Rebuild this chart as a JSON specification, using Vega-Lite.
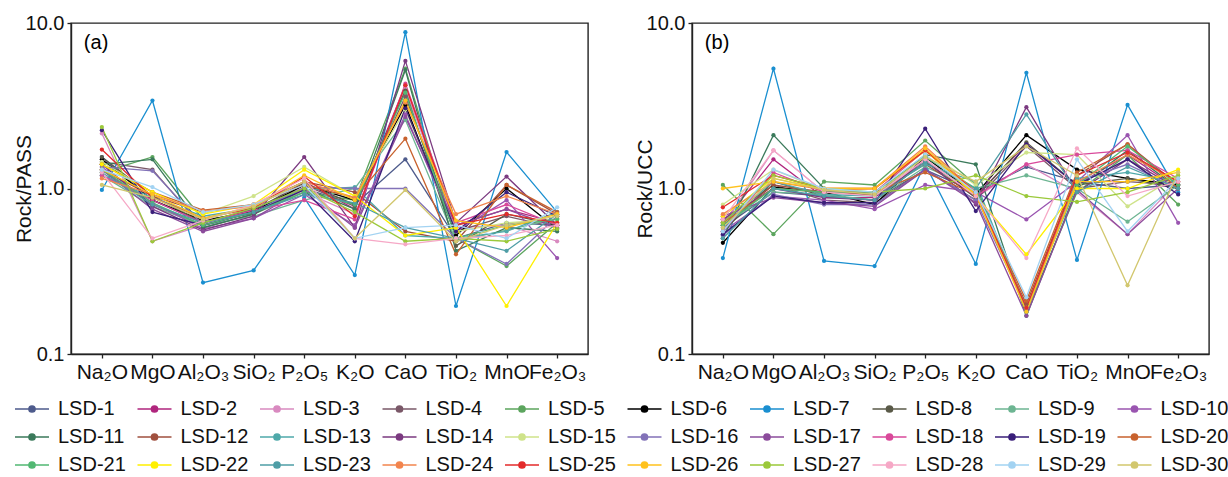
{
  "$schema": "https://vega.github.io/schema/vega-lite/v6.json",
  "padding": {"left": 12, "top": 12, "right": 4, "bottom": 2},
  "datasets": {
    "pass": [
      {"sample":"LSD-1","oxide":"Na₂O","ratio":1.55},{"sample":"LSD-1","oxide":"MgO","ratio":0.85},{"sample":"LSD-1","oxide":"Al₂O₃","ratio":0.62},{"sample":"LSD-1","oxide":"SiO₂","ratio":0.75},{"sample":"LSD-1","oxide":"P₂O₅","ratio":1.0},{"sample":"LSD-1","oxide":"K₂O","ratio":0.8},{"sample":"LSD-1","oxide":"CaO","ratio":1.5},{"sample":"LSD-1","oxide":"TiO₂","ratio":0.5},{"sample":"LSD-1","oxide":"MnO","ratio":0.62},{"sample":"LSD-1","oxide":"Fe₂O₃","ratio":0.6},
      {"sample":"LSD-2","oxide":"Na₂O","ratio":1.3},{"sample":"LSD-2","oxide":"MgO","ratio":0.8},{"sample":"LSD-2","oxide":"Al₂O₃","ratio":0.6},{"sample":"LSD-2","oxide":"SiO₂","ratio":0.72},{"sample":"LSD-2","oxide":"P₂O₅","ratio":1.1},{"sample":"LSD-2","oxide":"K₂O","ratio":0.75},{"sample":"LSD-2","oxide":"CaO","ratio":4.2},{"sample":"LSD-2","oxide":"TiO₂","ratio":0.6},{"sample":"LSD-2","oxide":"MnO","ratio":0.75},{"sample":"LSD-2","oxide":"Fe₂O₃","ratio":0.62},
      {"sample":"LSD-3","oxide":"Na₂O","ratio":2.15},{"sample":"LSD-3","oxide":"MgO","ratio":0.48},{"sample":"LSD-3","oxide":"Al₂O₃","ratio":0.6},{"sample":"LSD-3","oxide":"SiO₂","ratio":0.78},{"sample":"LSD-3","oxide":"P₂O₅","ratio":0.95},{"sample":"LSD-3","oxide":"K₂O","ratio":0.7},{"sample":"LSD-3","oxide":"CaO","ratio":4.0},{"sample":"LSD-3","oxide":"TiO₂","ratio":0.58},{"sample":"LSD-3","oxide":"MnO","ratio":0.6},{"sample":"LSD-3","oxide":"Fe₂O₃","ratio":0.48},
      {"sample":"LSD-4","oxide":"Na₂O","ratio":1.45},{"sample":"LSD-4","oxide":"MgO","ratio":1.3},{"sample":"LSD-4","oxide":"Al₂O₃","ratio":0.58},{"sample":"LSD-4","oxide":"SiO₂","ratio":0.7},{"sample":"LSD-4","oxide":"P₂O₅","ratio":1.05},{"sample":"LSD-4","oxide":"K₂O","ratio":0.78},{"sample":"LSD-4","oxide":"CaO","ratio":3.6},{"sample":"LSD-4","oxide":"TiO₂","ratio":0.55},{"sample":"LSD-4","oxide":"MnO","ratio":0.68},{"sample":"LSD-4","oxide":"Fe₂O₃","ratio":0.58},
      {"sample":"LSD-5","oxide":"Na₂O","ratio":1.25},{"sample":"LSD-5","oxide":"MgO","ratio":1.55},{"sample":"LSD-5","oxide":"Al₂O₃","ratio":0.65},{"sample":"LSD-5","oxide":"SiO₂","ratio":0.7},{"sample":"LSD-5","oxide":"P₂O₅","ratio":0.95},{"sample":"LSD-5","oxide":"K₂O","ratio":0.85},{"sample":"LSD-5","oxide":"CaO","ratio":5.3},{"sample":"LSD-5","oxide":"TiO₂","ratio":0.5},{"sample":"LSD-5","oxide":"MnO","ratio":0.34},{"sample":"LSD-5","oxide":"Fe₂O₃","ratio":0.62},
      {"sample":"LSD-6","oxide":"Na₂O","ratio":1.5},{"sample":"LSD-6","oxide":"MgO","ratio":0.85},{"sample":"LSD-6","oxide":"Al₂O₃","ratio":0.64},{"sample":"LSD-6","oxide":"SiO₂","ratio":0.73},{"sample":"LSD-6","oxide":"P₂O₅","ratio":1.05},{"sample":"LSD-6","oxide":"K₂O","ratio":0.85},{"sample":"LSD-6","oxide":"CaO","ratio":3.2},{"sample":"LSD-6","oxide":"TiO₂","ratio":0.52},{"sample":"LSD-6","oxide":"MnO","ratio":1.0},{"sample":"LSD-6","oxide":"Fe₂O₃","ratio":0.57},
      {"sample":"LSD-7","oxide":"Na₂O","ratio":0.98},{"sample":"LSD-7","oxide":"MgO","ratio":3.4},{"sample":"LSD-7","oxide":"Al₂O₃","ratio":0.27},{"sample":"LSD-7","oxide":"SiO₂","ratio":0.32},{"sample":"LSD-7","oxide":"P₂O₅","ratio":0.88},{"sample":"LSD-7","oxide":"K₂O","ratio":0.3},{"sample":"LSD-7","oxide":"CaO","ratio":8.8},{"sample":"LSD-7","oxide":"TiO₂","ratio":0.195},{"sample":"LSD-7","oxide":"MnO","ratio":1.66},{"sample":"LSD-7","oxide":"Fe₂O₃","ratio":0.72},
      {"sample":"LSD-8","oxide":"Na₂O","ratio":1.55},{"sample":"LSD-8","oxide":"MgO","ratio":0.9},{"sample":"LSD-8","oxide":"Al₂O₃","ratio":0.62},{"sample":"LSD-8","oxide":"SiO₂","ratio":0.74},{"sample":"LSD-8","oxide":"P₂O₅","ratio":1.08},{"sample":"LSD-8","oxide":"K₂O","ratio":0.8},{"sample":"LSD-8","oxide":"CaO","ratio":3.9},{"sample":"LSD-8","oxide":"TiO₂","ratio":0.45},{"sample":"LSD-8","oxide":"MnO","ratio":0.7},{"sample":"LSD-8","oxide":"Fe₂O₃","ratio":0.6},
      {"sample":"LSD-9","oxide":"Na₂O","ratio":1.2},{"sample":"LSD-9","oxide":"MgO","ratio":0.78},{"sample":"LSD-9","oxide":"Al₂O₃","ratio":0.6},{"sample":"LSD-9","oxide":"SiO₂","ratio":0.68},{"sample":"LSD-9","oxide":"P₂O₅","ratio":0.85},{"sample":"LSD-9","oxide":"K₂O","ratio":1.0},{"sample":"LSD-9","oxide":"CaO","ratio":2.6},{"sample":"LSD-9","oxide":"TiO₂","ratio":0.48},{"sample":"LSD-9","oxide":"MnO","ratio":0.56},{"sample":"LSD-9","oxide":"Fe₂O₃","ratio":0.66},
      {"sample":"LSD-10","oxide":"Na₂O","ratio":1.35},{"sample":"LSD-10","oxide":"MgO","ratio":0.82},{"sample":"LSD-10","oxide":"Al₂O₃","ratio":0.57},{"sample":"LSD-10","oxide":"SiO₂","ratio":0.66},{"sample":"LSD-10","oxide":"P₂O₅","ratio":0.92},{"sample":"LSD-10","oxide":"K₂O","ratio":0.6},{"sample":"LSD-10","oxide":"CaO","ratio":2.8},{"sample":"LSD-10","oxide":"TiO₂","ratio":0.55},{"sample":"LSD-10","oxide":"MnO","ratio":0.85},{"sample":"LSD-10","oxide":"Fe₂O₃","ratio":0.38},
      {"sample":"LSD-11","oxide":"Na₂O","ratio":1.4},{"sample":"LSD-11","oxide":"MgO","ratio":1.5},{"sample":"LSD-11","oxide":"Al₂O₃","ratio":0.58},{"sample":"LSD-11","oxide":"SiO₂","ratio":0.7},{"sample":"LSD-11","oxide":"P₂O₅","ratio":1.0},{"sample":"LSD-11","oxide":"K₂O","ratio":0.75},{"sample":"LSD-11","oxide":"CaO","ratio":5.2},{"sample":"LSD-11","oxide":"TiO₂","ratio":0.42},{"sample":"LSD-11","oxide":"MnO","ratio":0.58},{"sample":"LSD-11","oxide":"Fe₂O₃","ratio":0.55},
      {"sample":"LSD-12","oxide":"Na₂O","ratio":1.3},{"sample":"LSD-12","oxide":"MgO","ratio":0.9},{"sample":"LSD-12","oxide":"Al₂O₃","ratio":0.72},{"sample":"LSD-12","oxide":"SiO₂","ratio":0.8},{"sample":"LSD-12","oxide":"P₂O₅","ratio":1.1},{"sample":"LSD-12","oxide":"K₂O","ratio":0.95},{"sample":"LSD-12","oxide":"CaO","ratio":0.55},{"sample":"LSD-12","oxide":"TiO₂","ratio":0.48},{"sample":"LSD-12","oxide":"MnO","ratio":1.05},{"sample":"LSD-12","oxide":"Fe₂O₃","ratio":0.7},
      {"sample":"LSD-13","oxide":"Na₂O","ratio":1.2},{"sample":"LSD-13","oxide":"MgO","ratio":0.88},{"sample":"LSD-13","oxide":"Al₂O₃","ratio":0.68},{"sample":"LSD-13","oxide":"SiO₂","ratio":0.76},{"sample":"LSD-13","oxide":"P₂O₅","ratio":0.98},{"sample":"LSD-13","oxide":"K₂O","ratio":1.02},{"sample":"LSD-13","oxide":"CaO","ratio":0.52},{"sample":"LSD-13","oxide":"TiO₂","ratio":0.5},{"sample":"LSD-13","oxide":"MnO","ratio":0.55},{"sample":"LSD-13","oxide":"Fe₂O₃","ratio":0.72},
      {"sample":"LSD-14","oxide":"Na₂O","ratio":1.4},{"sample":"LSD-14","oxide":"MgO","ratio":0.78},{"sample":"LSD-14","oxide":"Al₂O₃","ratio":0.56},{"sample":"LSD-14","oxide":"SiO₂","ratio":0.68},{"sample":"LSD-14","oxide":"P₂O₅","ratio":1.55},{"sample":"LSD-14","oxide":"K₂O","ratio":0.58},{"sample":"LSD-14","oxide":"CaO","ratio":5.9},{"sample":"LSD-14","oxide":"TiO₂","ratio":0.62},{"sample":"LSD-14","oxide":"MnO","ratio":1.18},{"sample":"LSD-14","oxide":"Fe₂O₃","ratio":0.6},
      {"sample":"LSD-15","oxide":"Na₂O","ratio":1.45},{"sample":"LSD-15","oxide":"MgO","ratio":0.95},{"sample":"LSD-15","oxide":"Al₂O₃","ratio":0.7},{"sample":"LSD-15","oxide":"SiO₂","ratio":0.9},{"sample":"LSD-15","oxide":"P₂O₅","ratio":1.35},{"sample":"LSD-15","oxide":"K₂O","ratio":0.9},{"sample":"LSD-15","oxide":"CaO","ratio":3.0},{"sample":"LSD-15","oxide":"TiO₂","ratio":0.55},{"sample":"LSD-15","oxide":"MnO","ratio":0.62},{"sample":"LSD-15","oxide":"Fe₂O₃","ratio":0.65},
      {"sample":"LSD-16","oxide":"Na₂O","ratio":1.35},{"sample":"LSD-16","oxide":"MgO","ratio":1.28},{"sample":"LSD-16","oxide":"Al₂O₃","ratio":0.6},{"sample":"LSD-16","oxide":"SiO₂","ratio":0.72},{"sample":"LSD-16","oxide":"P₂O₅","ratio":1.02},{"sample":"LSD-16","oxide":"K₂O","ratio":1.0},{"sample":"LSD-16","oxide":"CaO","ratio":1.0},{"sample":"LSD-16","oxide":"TiO₂","ratio":0.5},{"sample":"LSD-16","oxide":"MnO","ratio":0.35},{"sample":"LSD-16","oxide":"Fe₂O₃","ratio":0.68},
      {"sample":"LSD-17","oxide":"Na₂O","ratio":1.3},{"sample":"LSD-17","oxide":"MgO","ratio":0.75},{"sample":"LSD-17","oxide":"Al₂O₃","ratio":0.55},{"sample":"LSD-17","oxide":"SiO₂","ratio":0.66},{"sample":"LSD-17","oxide":"P₂O₅","ratio":1.0},{"sample":"LSD-17","oxide":"K₂O","ratio":0.58},{"sample":"LSD-17","oxide":"CaO","ratio":2.7},{"sample":"LSD-17","oxide":"TiO₂","ratio":0.6},{"sample":"LSD-17","oxide":"MnO","ratio":0.75},{"sample":"LSD-17","oxide":"Fe₂O₃","ratio":0.58},
      {"sample":"LSD-18","oxide":"Na₂O","ratio":1.2},{"sample":"LSD-18","oxide":"MgO","ratio":0.85},{"sample":"LSD-18","oxide":"Al₂O₃","ratio":0.62},{"sample":"LSD-18","oxide":"SiO₂","ratio":0.74},{"sample":"LSD-18","oxide":"P₂O₅","ratio":0.85},{"sample":"LSD-18","oxide":"K₂O","ratio":0.65},{"sample":"LSD-18","oxide":"CaO","ratio":4.3},{"sample":"LSD-18","oxide":"TiO₂","ratio":0.62},{"sample":"LSD-18","oxide":"MnO","ratio":0.8},{"sample":"LSD-18","oxide":"Fe₂O₃","ratio":0.6},
      {"sample":"LSD-19","oxide":"Na₂O","ratio":2.25},{"sample":"LSD-19","oxide":"MgO","ratio":0.72},{"sample":"LSD-19","oxide":"Al₂O₃","ratio":0.6},{"sample":"LSD-19","oxide":"SiO₂","ratio":0.72},{"sample":"LSD-19","oxide":"P₂O₅","ratio":0.98},{"sample":"LSD-19","oxide":"K₂O","ratio":0.48},{"sample":"LSD-19","oxide":"CaO","ratio":3.05},{"sample":"LSD-19","oxide":"TiO₂","ratio":0.55},{"sample":"LSD-19","oxide":"MnO","ratio":0.95},{"sample":"LSD-19","oxide":"Fe₂O₃","ratio":0.68},
      {"sample":"LSD-20","oxide":"Na₂O","ratio":1.4},{"sample":"LSD-20","oxide":"MgO","ratio":0.95},{"sample":"LSD-20","oxide":"Al₂O₃","ratio":0.74},{"sample":"LSD-20","oxide":"SiO₂","ratio":0.8},{"sample":"LSD-20","oxide":"P₂O₅","ratio":1.05},{"sample":"LSD-20","oxide":"K₂O","ratio":0.88},{"sample":"LSD-20","oxide":"CaO","ratio":2.0},{"sample":"LSD-20","oxide":"TiO₂","ratio":0.4},{"sample":"LSD-20","oxide":"MnO","ratio":1.05},{"sample":"LSD-20","oxide":"Fe₂O₃","ratio":0.72},
      {"sample":"LSD-21","oxide":"Na₂O","ratio":1.3},{"sample":"LSD-21","oxide":"MgO","ratio":0.82},{"sample":"LSD-21","oxide":"Al₂O₃","ratio":0.6},{"sample":"LSD-21","oxide":"SiO₂","ratio":0.72},{"sample":"LSD-21","oxide":"P₂O₅","ratio":0.95},{"sample":"LSD-21","oxide":"K₂O","ratio":0.8},{"sample":"LSD-21","oxide":"CaO","ratio":3.8},{"sample":"LSD-21","oxide":"TiO₂","ratio":0.5},{"sample":"LSD-21","oxide":"MnO","ratio":0.6},{"sample":"LSD-21","oxide":"Fe₂O₃","ratio":0.65},
      {"sample":"LSD-22","oxide":"Na₂O","ratio":1.4},{"sample":"LSD-22","oxide":"MgO","ratio":0.95},{"sample":"LSD-22","oxide":"Al₂O₃","ratio":0.7},{"sample":"LSD-22","oxide":"SiO₂","ratio":0.8},{"sample":"LSD-22","oxide":"P₂O₅","ratio":1.3},{"sample":"LSD-22","oxide":"K₂O","ratio":0.9},{"sample":"LSD-22","oxide":"CaO","ratio":0.52},{"sample":"LSD-22","oxide":"TiO₂","ratio":0.58},{"sample":"LSD-22","oxide":"MnO","ratio":0.195},{"sample":"LSD-22","oxide":"Fe₂O₃","ratio":0.62},
      {"sample":"LSD-23","oxide":"Na₂O","ratio":1.25},{"sample":"LSD-23","oxide":"MgO","ratio":0.8},{"sample":"LSD-23","oxide":"Al₂O₃","ratio":0.62},{"sample":"LSD-23","oxide":"SiO₂","ratio":0.72},{"sample":"LSD-23","oxide":"P₂O₅","ratio":0.92},{"sample":"LSD-23","oxide":"K₂O","ratio":0.82},{"sample":"LSD-23","oxide":"CaO","ratio":0.58},{"sample":"LSD-23","oxide":"TiO₂","ratio":0.5},{"sample":"LSD-23","oxide":"MnO","ratio":0.42},{"sample":"LSD-23","oxide":"Fe₂O₃","ratio":0.7},
      {"sample":"LSD-24","oxide":"Na₂O","ratio":1.15},{"sample":"LSD-24","oxide":"MgO","ratio":0.92},{"sample":"LSD-24","oxide":"Al₂O₃","ratio":0.73},{"sample":"LSD-24","oxide":"SiO₂","ratio":0.78},{"sample":"LSD-24","oxide":"P₂O₅","ratio":1.1},{"sample":"LSD-24","oxide":"K₂O","ratio":0.88},{"sample":"LSD-24","oxide":"CaO","ratio":3.3},{"sample":"LSD-24","oxide":"TiO₂","ratio":0.7},{"sample":"LSD-24","oxide":"MnO","ratio":0.9},{"sample":"LSD-24","oxide":"Fe₂O₃","ratio":0.7},
      {"sample":"LSD-25","oxide":"Na₂O","ratio":1.72},{"sample":"LSD-25","oxide":"MgO","ratio":0.88},{"sample":"LSD-25","oxide":"Al₂O₃","ratio":0.66},{"sample":"LSD-25","oxide":"SiO₂","ratio":0.76},{"sample":"LSD-25","oxide":"P₂O₅","ratio":1.18},{"sample":"LSD-25","oxide":"K₂O","ratio":0.68},{"sample":"LSD-25","oxide":"CaO","ratio":4.2},{"sample":"LSD-25","oxide":"TiO₂","ratio":0.6},{"sample":"LSD-25","oxide":"MnO","ratio":0.7},{"sample":"LSD-25","oxide":"Fe₂O₃","ratio":0.62},
      {"sample":"LSD-26","oxide":"Na₂O","ratio":1.3},{"sample":"LSD-26","oxide":"MgO","ratio":0.92},{"sample":"LSD-26","oxide":"Al₂O₃","ratio":0.66},{"sample":"LSD-26","oxide":"SiO₂","ratio":0.78},{"sample":"LSD-26","oxide":"P₂O₅","ratio":1.2},{"sample":"LSD-26","oxide":"K₂O","ratio":0.85},{"sample":"LSD-26","oxide":"CaO","ratio":3.4},{"sample":"LSD-26","oxide":"TiO₂","ratio":0.64},{"sample":"LSD-26","oxide":"MnO","ratio":0.58},{"sample":"LSD-26","oxide":"Fe₂O₃","ratio":0.7},
      {"sample":"LSD-27","oxide":"Na₂O","ratio":2.35},{"sample":"LSD-27","oxide":"MgO","ratio":0.48},{"sample":"LSD-27","oxide":"Al₂O₃","ratio":0.62},{"sample":"LSD-27","oxide":"SiO₂","ratio":0.76},{"sample":"LSD-27","oxide":"P₂O₅","ratio":1.0},{"sample":"LSD-27","oxide":"K₂O","ratio":0.72},{"sample":"LSD-27","oxide":"CaO","ratio":0.48},{"sample":"LSD-27","oxide":"TiO₂","ratio":0.5},{"sample":"LSD-27","oxide":"MnO","ratio":0.48},{"sample":"LSD-27","oxide":"Fe₂O₃","ratio":0.57},
      {"sample":"LSD-28","oxide":"Na₂O","ratio":1.25},{"sample":"LSD-28","oxide":"MgO","ratio":0.5},{"sample":"LSD-28","oxide":"Al₂O₃","ratio":0.64},{"sample":"LSD-28","oxide":"SiO₂","ratio":0.8},{"sample":"LSD-28","oxide":"P₂O₅","ratio":1.15},{"sample":"LSD-28","oxide":"K₂O","ratio":0.5},{"sample":"LSD-28","oxide":"CaO","ratio":0.46},{"sample":"LSD-28","oxide":"TiO₂","ratio":0.5},{"sample":"LSD-28","oxide":"MnO","ratio":0.52},{"sample":"LSD-28","oxide":"Fe₂O₃","ratio":0.6},
      {"sample":"LSD-29","oxide":"Na₂O","ratio":1.3},{"sample":"LSD-29","oxide":"MgO","ratio":1.02},{"sample":"LSD-29","oxide":"Al₂O₃","ratio":0.72},{"sample":"LSD-29","oxide":"SiO₂","ratio":0.8},{"sample":"LSD-29","oxide":"P₂O₅","ratio":1.05},{"sample":"LSD-29","oxide":"K₂O","ratio":0.5},{"sample":"LSD-29","oxide":"CaO","ratio":0.58},{"sample":"LSD-29","oxide":"TiO₂","ratio":0.6},{"sample":"LSD-29","oxide":"MnO","ratio":0.5},{"sample":"LSD-29","oxide":"Fe₂O₃","ratio":0.77},
      {"sample":"LSD-30","oxide":"Na₂O","ratio":1.05},{"sample":"LSD-30","oxide":"MgO","ratio":0.88},{"sample":"LSD-30","oxide":"Al₂O₃","ratio":0.65},{"sample":"LSD-30","oxide":"SiO₂","ratio":0.78},{"sample":"LSD-30","oxide":"P₂O₅","ratio":1.1},{"sample":"LSD-30","oxide":"K₂O","ratio":0.5},{"sample":"LSD-30","oxide":"CaO","ratio":0.98},{"sample":"LSD-30","oxide":"TiO₂","ratio":0.48},{"sample":"LSD-30","oxide":"MnO","ratio":0.6},{"sample":"LSD-30","oxide":"Fe₂O₃","ratio":0.68}
    ],
    "ucc": [
      {"sample":"LSD-1","oxide":"Na₂O","ratio":0.58},{"sample":"LSD-1","oxide":"MgO","ratio":0.95},{"sample":"LSD-1","oxide":"Al₂O₃","ratio":0.9},{"sample":"LSD-1","oxide":"SiO₂","ratio":0.85},{"sample":"LSD-1","oxide":"P₂O₅","ratio":1.3},{"sample":"LSD-1","oxide":"K₂O","ratio":0.95},{"sample":"LSD-1","oxide":"CaO","ratio":1.35},{"sample":"LSD-1","oxide":"TiO₂","ratio":1.1},{"sample":"LSD-1","oxide":"MnO","ratio":1.0},{"sample":"LSD-1","oxide":"Fe₂O₃","ratio":1.05},
      {"sample":"LSD-2","oxide":"Na₂O","ratio":0.62},{"sample":"LSD-2","oxide":"MgO","ratio":1.5},{"sample":"LSD-2","oxide":"Al₂O₃","ratio":0.88},{"sample":"LSD-2","oxide":"SiO₂","ratio":0.88},{"sample":"LSD-2","oxide":"P₂O₅","ratio":1.45},{"sample":"LSD-2","oxide":"K₂O","ratio":0.9},{"sample":"LSD-2","oxide":"CaO","ratio":1.85},{"sample":"LSD-2","oxide":"TiO₂","ratio":1.05},{"sample":"LSD-2","oxide":"MnO","ratio":1.6},{"sample":"LSD-2","oxide":"Fe₂O₃","ratio":1.0},
      {"sample":"LSD-3","oxide":"Na₂O","ratio":0.6},{"sample":"LSD-3","oxide":"MgO","ratio":1.7},{"sample":"LSD-3","oxide":"Al₂O₃","ratio":0.95},{"sample":"LSD-3","oxide":"SiO₂","ratio":0.9},{"sample":"LSD-3","oxide":"P₂O₅","ratio":1.5},{"sample":"LSD-3","oxide":"K₂O","ratio":0.88},{"sample":"LSD-3","oxide":"CaO","ratio":1.4},{"sample":"LSD-3","oxide":"TiO₂","ratio":0.95},{"sample":"LSD-3","oxide":"MnO","ratio":0.53},{"sample":"LSD-3","oxide":"Fe₂O₃","ratio":1.1},
      {"sample":"LSD-4","oxide":"Na₂O","ratio":0.65},{"sample":"LSD-4","oxide":"MgO","ratio":1.05},{"sample":"LSD-4","oxide":"Al₂O₃","ratio":0.85},{"sample":"LSD-4","oxide":"SiO₂","ratio":0.82},{"sample":"LSD-4","oxide":"P₂O₅","ratio":1.3},{"sample":"LSD-4","oxide":"K₂O","ratio":0.85},{"sample":"LSD-4","oxide":"CaO","ratio":1.8},{"sample":"LSD-4","oxide":"TiO₂","ratio":1.0},{"sample":"LSD-4","oxide":"MnO","ratio":1.1},{"sample":"LSD-4","oxide":"Fe₂O₃","ratio":1.05},
      {"sample":"LSD-5","oxide":"Na₂O","ratio":1.05},{"sample":"LSD-5","oxide":"MgO","ratio":0.53},{"sample":"LSD-5","oxide":"Al₂O₃","ratio":1.1},{"sample":"LSD-5","oxide":"SiO₂","ratio":1.05},{"sample":"LSD-5","oxide":"P₂O₅","ratio":1.95},{"sample":"LSD-5","oxide":"K₂O","ratio":1.05},{"sample":"LSD-5","oxide":"CaO","ratio":0.18},{"sample":"LSD-5","oxide":"TiO₂","ratio":0.95},{"sample":"LSD-5","oxide":"MnO","ratio":1.6},{"sample":"LSD-5","oxide":"Fe₂O₃","ratio":0.8},
      {"sample":"LSD-6","oxide":"Na₂O","ratio":0.47},{"sample":"LSD-6","oxide":"MgO","ratio":1.02},{"sample":"LSD-6","oxide":"Al₂O₃","ratio":0.95},{"sample":"LSD-6","oxide":"SiO₂","ratio":0.8},{"sample":"LSD-6","oxide":"P₂O₅","ratio":1.55},{"sample":"LSD-6","oxide":"K₂O","ratio":0.92},{"sample":"LSD-6","oxide":"CaO","ratio":2.1},{"sample":"LSD-6","oxide":"TiO₂","ratio":1.3},{"sample":"LSD-6","oxide":"MnO","ratio":1.15},{"sample":"LSD-6","oxide":"Fe₂O₃","ratio":1.05},
      {"sample":"LSD-7","oxide":"Na₂O","ratio":0.38},{"sample":"LSD-7","oxide":"MgO","ratio":5.3},{"sample":"LSD-7","oxide":"Al₂O₃","ratio":0.365},{"sample":"LSD-7","oxide":"SiO₂","ratio":0.34},{"sample":"LSD-7","oxide":"P₂O₅","ratio":1.4},{"sample":"LSD-7","oxide":"K₂O","ratio":0.35},{"sample":"LSD-7","oxide":"CaO","ratio":5.0},{"sample":"LSD-7","oxide":"TiO₂","ratio":0.37},{"sample":"LSD-7","oxide":"MnO","ratio":3.2},{"sample":"LSD-7","oxide":"Fe₂O₃","ratio":0.95},
      {"sample":"LSD-8","oxide":"Na₂O","ratio":0.55},{"sample":"LSD-8","oxide":"MgO","ratio":1.1},{"sample":"LSD-8","oxide":"Al₂O₃","ratio":0.9},{"sample":"LSD-8","oxide":"SiO₂","ratio":0.85},{"sample":"LSD-8","oxide":"P₂O₅","ratio":1.45},{"sample":"LSD-8","oxide":"K₂O","ratio":0.88},{"sample":"LSD-8","oxide":"CaO","ratio":1.9},{"sample":"LSD-8","oxide":"TiO₂","ratio":1.05},{"sample":"LSD-8","oxide":"MnO","ratio":1.15},{"sample":"LSD-8","oxide":"Fe₂O₃","ratio":1.0},
      {"sample":"LSD-9","oxide":"Na₂O","ratio":0.6},{"sample":"LSD-9","oxide":"MgO","ratio":0.95},{"sample":"LSD-9","oxide":"Al₂O₃","ratio":0.92},{"sample":"LSD-9","oxide":"SiO₂","ratio":0.85},{"sample":"LSD-9","oxide":"P₂O₅","ratio":1.35},{"sample":"LSD-9","oxide":"K₂O","ratio":1.0},{"sample":"LSD-9","oxide":"CaO","ratio":1.2},{"sample":"LSD-9","oxide":"TiO₂","ratio":1.0},{"sample":"LSD-9","oxide":"MnO","ratio":0.63},{"sample":"LSD-9","oxide":"Fe₂O₃","ratio":1.05},
      {"sample":"LSD-10","oxide":"Na₂O","ratio":0.55},{"sample":"LSD-10","oxide":"MgO","ratio":0.9},{"sample":"LSD-10","oxide":"Al₂O₃","ratio":0.85},{"sample":"LSD-10","oxide":"SiO₂","ratio":0.75},{"sample":"LSD-10","oxide":"P₂O₅","ratio":1.05},{"sample":"LSD-10","oxide":"K₂O","ratio":0.95},{"sample":"LSD-10","oxide":"CaO","ratio":0.65},{"sample":"LSD-10","oxide":"TiO₂","ratio":1.1},{"sample":"LSD-10","oxide":"MnO","ratio":2.1},{"sample":"LSD-10","oxide":"Fe₂O₃","ratio":0.62},
      {"sample":"LSD-11","oxide":"Na₂O","ratio":0.5},{"sample":"LSD-11","oxide":"MgO","ratio":2.1},{"sample":"LSD-11","oxide":"Al₂O₃","ratio":1.0},{"sample":"LSD-11","oxide":"SiO₂","ratio":0.9},{"sample":"LSD-11","oxide":"P₂O₅","ratio":1.6},{"sample":"LSD-11","oxide":"K₂O","ratio":1.4},{"sample":"LSD-11","oxide":"CaO","ratio":0.17},{"sample":"LSD-11","oxide":"TiO₂","ratio":1.0},{"sample":"LSD-11","oxide":"MnO","ratio":1.7},{"sample":"LSD-11","oxide":"Fe₂O₃","ratio":1.0},
      {"sample":"LSD-12","oxide":"Na₂O","ratio":0.6},{"sample":"LSD-12","oxide":"MgO","ratio":1.05},{"sample":"LSD-12","oxide":"Al₂O₃","ratio":0.95},{"sample":"LSD-12","oxide":"SiO₂","ratio":0.92},{"sample":"LSD-12","oxide":"P₂O₅","ratio":1.4},{"sample":"LSD-12","oxide":"K₂O","ratio":0.9},{"sample":"LSD-12","oxide":"CaO","ratio":0.2},{"sample":"LSD-12","oxide":"TiO₂","ratio":1.2},{"sample":"LSD-12","oxide":"MnO","ratio":1.85},{"sample":"LSD-12","oxide":"Fe₂O₃","ratio":1.05},
      {"sample":"LSD-13","oxide":"Na₂O","ratio":0.62},{"sample":"LSD-13","oxide":"MgO","ratio":1.1},{"sample":"LSD-13","oxide":"Al₂O₃","ratio":0.92},{"sample":"LSD-13","oxide":"SiO₂","ratio":0.9},{"sample":"LSD-13","oxide":"P₂O₅","ratio":1.4},{"sample":"LSD-13","oxide":"K₂O","ratio":1.1},{"sample":"LSD-13","oxide":"CaO","ratio":0.18},{"sample":"LSD-13","oxide":"TiO₂","ratio":1.15},{"sample":"LSD-13","oxide":"MnO","ratio":1.25},{"sample":"LSD-13","oxide":"Fe₂O₃","ratio":1.1},
      {"sample":"LSD-14","oxide":"Na₂O","ratio":0.65},{"sample":"LSD-14","oxide":"MgO","ratio":1.0},{"sample":"LSD-14","oxide":"Al₂O₃","ratio":0.88},{"sample":"LSD-14","oxide":"SiO₂","ratio":0.85},{"sample":"LSD-14","oxide":"P₂O₅","ratio":1.5},{"sample":"LSD-14","oxide":"K₂O","ratio":0.8},{"sample":"LSD-14","oxide":"CaO","ratio":3.1},{"sample":"LSD-14","oxide":"TiO₂","ratio":0.95},{"sample":"LSD-14","oxide":"MnO","ratio":1.5},{"sample":"LSD-14","oxide":"Fe₂O₃","ratio":1.0},
      {"sample":"LSD-15","oxide":"Na₂O","ratio":0.8},{"sample":"LSD-15","oxide":"MgO","ratio":1.3},{"sample":"LSD-15","oxide":"Al₂O₃","ratio":0.98},{"sample":"LSD-15","oxide":"SiO₂","ratio":0.95},{"sample":"LSD-15","oxide":"P₂O₅","ratio":1.7},{"sample":"LSD-15","oxide":"K₂O","ratio":1.05},{"sample":"LSD-15","oxide":"CaO","ratio":1.65},{"sample":"LSD-15","oxide":"TiO₂","ratio":1.6},{"sample":"LSD-15","oxide":"MnO","ratio":0.78},{"sample":"LSD-15","oxide":"Fe₂O₃","ratio":1.2},
      {"sample":"LSD-16","oxide":"Na₂O","ratio":0.52},{"sample":"LSD-16","oxide":"MgO","ratio":0.92},{"sample":"LSD-16","oxide":"Al₂O₃","ratio":0.8},{"sample":"LSD-16","oxide":"SiO₂","ratio":0.8},{"sample":"LSD-16","oxide":"P₂O₅","ratio":1.3},{"sample":"LSD-16","oxide":"K₂O","ratio":0.85},{"sample":"LSD-16","oxide":"CaO","ratio":0.19},{"sample":"LSD-16","oxide":"TiO₂","ratio":1.1},{"sample":"LSD-16","oxide":"MnO","ratio":1.4},{"sample":"LSD-16","oxide":"Fe₂O₃","ratio":1.0},
      {"sample":"LSD-17","oxide":"Na₂O","ratio":0.68},{"sample":"LSD-17","oxide":"MgO","ratio":0.88},{"sample":"LSD-17","oxide":"Al₂O₃","ratio":0.82},{"sample":"LSD-17","oxide":"SiO₂","ratio":0.78},{"sample":"LSD-17","oxide":"P₂O₅","ratio":1.3},{"sample":"LSD-17","oxide":"K₂O","ratio":0.82},{"sample":"LSD-17","oxide":"CaO","ratio":0.17},{"sample":"LSD-17","oxide":"TiO₂","ratio":0.98},{"sample":"LSD-17","oxide":"MnO","ratio":0.53},{"sample":"LSD-17","oxide":"Fe₂O₃","ratio":1.0},
      {"sample":"LSD-18","oxide":"Na₂O","ratio":0.55},{"sample":"LSD-18","oxide":"MgO","ratio":1.25},{"sample":"LSD-18","oxide":"Al₂O₃","ratio":0.95},{"sample":"LSD-18","oxide":"SiO₂","ratio":0.95},{"sample":"LSD-18","oxide":"P₂O₅","ratio":1.7},{"sample":"LSD-18","oxide":"K₂O","ratio":0.9},{"sample":"LSD-18","oxide":"CaO","ratio":1.4},{"sample":"LSD-18","oxide":"TiO₂","ratio":1.6},{"sample":"LSD-18","oxide":"MnO","ratio":1.7},{"sample":"LSD-18","oxide":"Fe₂O₃","ratio":1.15},
      {"sample":"LSD-19","oxide":"Na₂O","ratio":0.53},{"sample":"LSD-19","oxide":"MgO","ratio":0.9},{"sample":"LSD-19","oxide":"Al₂O₃","ratio":0.82},{"sample":"LSD-19","oxide":"SiO₂","ratio":0.82},{"sample":"LSD-19","oxide":"P₂O₅","ratio":2.3},{"sample":"LSD-19","oxide":"K₂O","ratio":0.73},{"sample":"LSD-19","oxide":"CaO","ratio":1.85},{"sample":"LSD-19","oxide":"TiO₂","ratio":1.05},{"sample":"LSD-19","oxide":"MnO","ratio":1.5},{"sample":"LSD-19","oxide":"Fe₂O₃","ratio":0.92},
      {"sample":"LSD-20","oxide":"Na₂O","ratio":0.62},{"sample":"LSD-20","oxide":"MgO","ratio":1.0},{"sample":"LSD-20","oxide":"Al₂O₃","ratio":0.95},{"sample":"LSD-20","oxide":"SiO₂","ratio":0.95},{"sample":"LSD-20","oxide":"P₂O₅","ratio":1.25},{"sample":"LSD-20","oxide":"K₂O","ratio":0.92},{"sample":"LSD-20","oxide":"CaO","ratio":0.21},{"sample":"LSD-20","oxide":"TiO₂","ratio":1.25},{"sample":"LSD-20","oxide":"MnO","ratio":1.85},{"sample":"LSD-20","oxide":"Fe₂O₃","ratio":1.0},
      {"sample":"LSD-21","oxide":"Na₂O","ratio":0.6},{"sample":"LSD-21","oxide":"MgO","ratio":1.0},{"sample":"LSD-21","oxide":"Al₂O₃","ratio":0.95},{"sample":"LSD-21","oxide":"SiO₂","ratio":0.95},{"sample":"LSD-21","oxide":"P₂O₅","ratio":1.55},{"sample":"LSD-21","oxide":"K₂O","ratio":1.0},{"sample":"LSD-21","oxide":"CaO","ratio":0.19},{"sample":"LSD-21","oxide":"TiO₂","ratio":1.05},{"sample":"LSD-21","oxide":"MnO","ratio":1.8},{"sample":"LSD-21","oxide":"Fe₂O₃","ratio":1.05},
      {"sample":"LSD-22","oxide":"Na₂O","ratio":0.68},{"sample":"LSD-22","oxide":"MgO","ratio":1.15},{"sample":"LSD-22","oxide":"Al₂O₃","ratio":1.0},{"sample":"LSD-22","oxide":"SiO₂","ratio":1.0},{"sample":"LSD-22","oxide":"P₂O₅","ratio":1.7},{"sample":"LSD-22","oxide":"K₂O","ratio":0.9},{"sample":"LSD-22","oxide":"CaO","ratio":0.4},{"sample":"LSD-22","oxide":"TiO₂","ratio":1.0},{"sample":"LSD-22","oxide":"MnO","ratio":1.0},{"sample":"LSD-22","oxide":"Fe₂O₃","ratio":1.3},
      {"sample":"LSD-23","oxide":"Na₂O","ratio":0.5},{"sample":"LSD-23","oxide":"MgO","ratio":1.0},{"sample":"LSD-23","oxide":"Al₂O₃","ratio":0.9},{"sample":"LSD-23","oxide":"SiO₂","ratio":0.85},{"sample":"LSD-23","oxide":"P₂O₅","ratio":1.45},{"sample":"LSD-23","oxide":"K₂O","ratio":1.0},{"sample":"LSD-23","oxide":"CaO","ratio":2.8},{"sample":"LSD-23","oxide":"TiO₂","ratio":0.95},{"sample":"LSD-23","oxide":"MnO","ratio":1.35},{"sample":"LSD-23","oxide":"Fe₂O₃","ratio":1.0},
      {"sample":"LSD-24","oxide":"Na₂O","ratio":0.7},{"sample":"LSD-24","oxide":"MgO","ratio":1.1},{"sample":"LSD-24","oxide":"Al₂O₃","ratio":0.98},{"sample":"LSD-24","oxide":"SiO₂","ratio":1.0},{"sample":"LSD-24","oxide":"P₂O₅","ratio":1.8},{"sample":"LSD-24","oxide":"K₂O","ratio":0.95},{"sample":"LSD-24","oxide":"CaO","ratio":0.19},{"sample":"LSD-24","oxide":"TiO₂","ratio":1.1},{"sample":"LSD-24","oxide":"MnO","ratio":1.6},{"sample":"LSD-24","oxide":"Fe₂O₃","ratio":1.1},
      {"sample":"LSD-25","oxide":"Na₂O","ratio":0.77},{"sample":"LSD-25","oxide":"MgO","ratio":1.2},{"sample":"LSD-25","oxide":"Al₂O₃","ratio":1.0},{"sample":"LSD-25","oxide":"SiO₂","ratio":1.0},{"sample":"LSD-25","oxide":"P₂O₅","ratio":1.7},{"sample":"LSD-25","oxide":"K₂O","ratio":0.95},{"sample":"LSD-25","oxide":"CaO","ratio":0.19},{"sample":"LSD-25","oxide":"TiO₂","ratio":1.2},{"sample":"LSD-25","oxide":"MnO","ratio":1.65},{"sample":"LSD-25","oxide":"Fe₂O₃","ratio":1.1},
      {"sample":"LSD-26","oxide":"Na₂O","ratio":1.0},{"sample":"LSD-26","oxide":"MgO","ratio":1.1},{"sample":"LSD-26","oxide":"Al₂O₃","ratio":1.0},{"sample":"LSD-26","oxide":"SiO₂","ratio":1.0},{"sample":"LSD-26","oxide":"P₂O₅","ratio":1.75},{"sample":"LSD-26","oxide":"K₂O","ratio":0.92},{"sample":"LSD-26","oxide":"CaO","ratio":0.18},{"sample":"LSD-26","oxide":"TiO₂","ratio":1.1},{"sample":"LSD-26","oxide":"MnO","ratio":1.1},{"sample":"LSD-26","oxide":"Fe₂O₃","ratio":1.25},
      {"sample":"LSD-27","oxide":"Na₂O","ratio":0.62},{"sample":"LSD-27","oxide":"MgO","ratio":1.2},{"sample":"LSD-27","oxide":"Al₂O₃","ratio":1.0},{"sample":"LSD-27","oxide":"SiO₂","ratio":0.95},{"sample":"LSD-27","oxide":"P₂O₅","ratio":1.0},{"sample":"LSD-27","oxide":"K₂O","ratio":1.2},{"sample":"LSD-27","oxide":"CaO","ratio":0.9},{"sample":"LSD-27","oxide":"TiO₂","ratio":0.83},{"sample":"LSD-27","oxide":"MnO","ratio":0.95},{"sample":"LSD-27","oxide":"Fe₂O₃","ratio":1.2},
      {"sample":"LSD-28","oxide":"Na₂O","ratio":0.65},{"sample":"LSD-28","oxide":"MgO","ratio":1.7},{"sample":"LSD-28","oxide":"Al₂O₃","ratio":0.95},{"sample":"LSD-28","oxide":"SiO₂","ratio":0.9},{"sample":"LSD-28","oxide":"P₂O₅","ratio":1.5},{"sample":"LSD-28","oxide":"K₂O","ratio":0.9},{"sample":"LSD-28","oxide":"CaO","ratio":0.38},{"sample":"LSD-28","oxide":"TiO₂","ratio":1.75},{"sample":"LSD-28","oxide":"MnO","ratio":0.9},{"sample":"LSD-28","oxide":"Fe₂O₃","ratio":1.1},
      {"sample":"LSD-29","oxide":"Na₂O","ratio":0.55},{"sample":"LSD-29","oxide":"MgO","ratio":1.3},{"sample":"LSD-29","oxide":"Al₂O₃","ratio":1.0},{"sample":"LSD-29","oxide":"SiO₂","ratio":0.95},{"sample":"LSD-29","oxide":"P₂O₅","ratio":1.6},{"sample":"LSD-29","oxide":"K₂O","ratio":0.95},{"sample":"LSD-29","oxide":"CaO","ratio":0.22},{"sample":"LSD-29","oxide":"TiO₂","ratio":1.5},{"sample":"LSD-29","oxide":"MnO","ratio":0.55},{"sample":"LSD-29","oxide":"Fe₂O₃","ratio":1.15},
      {"sample":"LSD-30","oxide":"Na₂O","ratio":0.58},{"sample":"LSD-30","oxide":"MgO","ratio":1.15},{"sample":"LSD-30","oxide":"Al₂O₃","ratio":0.98},{"sample":"LSD-30","oxide":"SiO₂","ratio":0.92},{"sample":"LSD-30","oxide":"P₂O₅","ratio":1.55},{"sample":"LSD-30","oxide":"K₂O","ratio":1.1},{"sample":"LSD-30","oxide":"CaO","ratio":1.8},{"sample":"LSD-30","oxide":"TiO₂","ratio":1.2},{"sample":"LSD-30","oxide":"MnO","ratio":0.26},{"sample":"LSD-30","oxide":"Fe₂O₃","ratio":1.25}
    ],
    "tags": [{"panel": "(a)", "oxide": "Na₂O", "ratio": 7.6}, {"panel": "(b)", "oxide": "Na₂O", "ratio": 7.6}]
  },
  "spacing": 44,
  "hconcat": [
    {
      "width": 517, "height": 331,
      "layer": [
        {
          "data": {"name": "pass"},
          "mark": {"type": "line", "strokeWidth": 1.3, "point": {"filled": true, "size": 18}},
          "encoding": {
            "x": {"field": "oxide", "type": "nominal", "sort": null, "scale": {"type": "point", "domain": ["Na₂O","MgO","Al₂O₃","SiO₂","P₂O₅","K₂O","CaO","TiO₂","MnO","Fe₂O₃"], "padding": 0.61}, "axis": {"title": null, "labelAngle": 0}},
            "y": {"field": "ratio", "type": "quantitative", "scale": {"type": "log", "domain": [0.1, 10], "nice": false}, "axis": {"title": "Rock/PASS", "values": [0.1, 1, 10], "format": ".1f"}},
            "color": {"field": "sample", "type": "nominal", "title": null,
              "legend": {"orient": "none", "legendX": -57, "legendY": 368, "direction": "horizontal", "columns": 10},
              "scale": {"domain": ["LSD-1","LSD-2","LSD-3","LSD-4","LSD-5","LSD-6","LSD-7","LSD-8","LSD-9","LSD-10","LSD-11","LSD-12","LSD-13","LSD-14","LSD-15","LSD-16","LSD-17","LSD-18","LSD-19","LSD-20","LSD-21","LSD-22","LSD-23","LSD-24","LSD-25","LSD-26","LSD-27","LSD-28","LSD-29","LSD-30"], "range": ["#4e5b8c","#b0267e","#d98ac0","#7a5868","#5ca55e","#000000","#1a8fd0","#5a5a48","#6db592","#9a55b0","#3b7a5b","#a0503f","#4fa9aa","#7b3a80","#cfe38a","#8272b8","#8c4c9c","#d9499a","#3a1f7a","#c8622e","#52b873","#fff000","#4f9ea6","#f2854e","#e32b2b","#ffc21e","#9bc93a","#f6a8c6","#a3d3f2","#d2c76e"]}},
            "detail": {"field": "sample"}
          }
        },
        {
          "data": {"name": "tags"},
          "transform": [{"filter": "datum.panel == '(a)'"}],
          "mark": {"type": "text", "align": "left", "baseline": "middle", "dx": -18, "fontSize": 20, "font": "Liberation Sans"},
          "encoding": {"x": {"field": "oxide", "type": "nominal"}, "y": {"field": "ratio", "type": "quantitative"}, "text": {"field": "panel"}}
        }
      ]
    },
    {
      "width": 517, "height": 331,
      "layer": [
        {
          "data": {"name": "ucc"},
          "mark": {"type": "line", "strokeWidth": 1.3, "point": {"filled": true, "size": 18}},
          "encoding": {
            "x": {"field": "oxide", "type": "nominal", "sort": null, "scale": {"type": "point", "domain": ["Na₂O","MgO","Al₂O₃","SiO₂","P₂O₅","K₂O","CaO","TiO₂","MnO","Fe₂O₃"], "padding": 0.61}, "axis": {"title": null, "labelAngle": 0}},
            "y": {"field": "ratio", "type": "quantitative", "scale": {"type": "log", "domain": [0.1, 10], "nice": false}, "axis": {"title": "Rock/UCC", "values": [0.1, 1, 10], "format": ".1f"}},
            "color": {"field": "sample", "type": "nominal", "title": null},
            "detail": {"field": "sample"}
          }
        },
        {
          "data": {"name": "tags"},
          "transform": [{"filter": "datum.panel == '(b)'"}],
          "mark": {"type": "text", "align": "left", "baseline": "middle", "dx": -18, "fontSize": 20, "font": "Liberation Sans"},
          "encoding": {"x": {"field": "oxide", "type": "nominal"}, "y": {"field": "ratio", "type": "quantitative"}, "text": {"field": "panel"}}
        }
      ]
    }
  ],
  "resolve": {"scale": {"color": "shared"}},
  "config": {
    "font": "Liberation Sans",
    "view": {"stroke": "#222", "strokeWidth": 1.4},
    "axis": {"grid": false, "domainColor": "#222", "domainWidth": 1.4, "tickColor": "#222", "tickWidth": 1.3, "tickSize": 4, "labelColor": "#111", "titleColor": "#111", "labelFontSize": 20, "titleFontSize": 21, "titleFontWeight": "normal", "labelPadding": 3, "titlePadding": -9, "labelFont": "Liberation Sans", "titleFont": "Liberation Sans"},
    "axisX": {"labelFontSize": 21},
    "legend": {
      "labelFontSize": 20,
      "labelFont": "Liberation Sans",
      "labelColor": "#111",
      "symbolType": "M-1,0H1M-0.18,0A0.18,0.18 0 1,1 0.18,0A0.18,0.18 0 1,1 -0.18,0Z",
      "symbolSize": 1156,
      "symbolStrokeWidth": 1.6,
      "labelOffset": 8,
      "columnPadding": 7.5,
      "rowPadding": -5.5
    }
  }
}
